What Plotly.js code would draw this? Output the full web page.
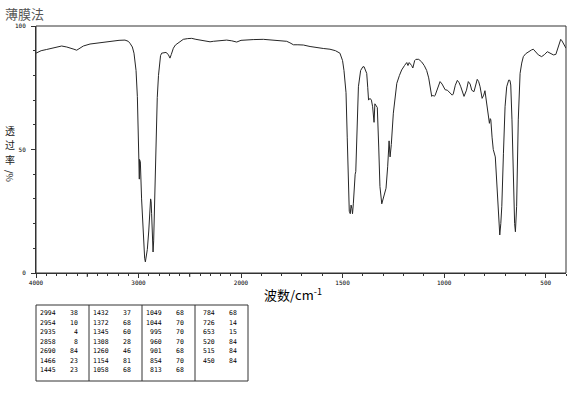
<!DOCTYPE html>
<html>
<head>
<meta charset="utf-8">
<script src="https://cdn.plot.ly/plotly-3.0.1.min.js"></script>
<style>html,body{margin:0;padding:0;background:#fff;}#chart{width:570px;height:394px;}</style>
</head>
<body>
<div id="chart"></div>
<script>
// Spectrum: wavenumber (cm-1) and transmittance (%)
var wavenumber = [4000,3950,3896,3820,3750,3700,3668,3630,3603,3570,3538,3473,3420,3359,3300,3246,3190,3132,3100,3083,3060,3044,3030,3024,3011,3002,2998,2995,2992,2990,2982,2970,2960,2950,2940,2933,2926,2914,2900,2890,2882,2877,2872,2865,2858,2852,2845,2838,2829,2817,2805,2797,2785,2774,2750,2732,2710,2693,2680,2660,2640,2612,2563,2520,2481,2440,2400,2350,2302,2270,2237,2190,2140,2090,2042,2000,
1989,1940,1890,1840,1800,1775,1759,1742,1720,1693,1660,1627,1595,1562,1535,1513,1500,1493,1483,1477,1472,1467,1462,1458,1454,1451,1447,1443,1438,1435,1430,1422,1411,1400,1394,1386,1381,1376,1372,1365,1358,1352,1345,1341,1336,1329,1322,1316,1307,1296,1286,1278,1271,1266,1260,1250,1233,1220,1209,1195,1184,1178,1172,1160,1154,1145,1139,1125,1111,1098,1086,1076,1069,1061,1055,1049,1044,1035,1020,1010,1000,995,984,970,960,955,945,935,926,918,910,902,890,881,872,864,853,845,837,830,823,813,805,799,793,787,781,777,773,770,764,758,748,738,731,726,721,716,708,700,692,682,676,672,666,659,653,649,643,635,626,618,610,598,585,570,561,550,536,520,515,505,492,478,462,450,445,435,426,420,413,405,400];
var transmittance = [89,90,90.5,91.3,91.9,91.5,91.2,90.6,90.2,91.2,91.9,92.7,93.0,93.2,93.6,94.0,94.2,94.3,93.8,93,91.5,89,85,82,71.4,58,52,40,38,46,45,30,21,10,6,4.5,6,9.5,17,24,30,29,24,15,8.5,13,25,38,51,71,80,85,88,89,89.3,89.3,88.5,87,88.5,91,92.3,93.2,94.6,94.9,95,94.6,94.3,93.8,93.6,93.8,94,94.3,94.3,94,93.5,94.2,
94.3,94.5,94.6,94.3,94,93.8,93.2,92.4,92.4,92.3,91.7,91.2,90.9,90.6,90,89,86,82,73,55,38,25,24,27.5,26,24,28,37,40,41,58,75.4,82,83.5,83.5,82,80.8,75,70,70.7,70,67.3,61,68.5,68,67,51,35,28,31.6,34.3,43,53.5,47,52,64.7,76.8,80,82.2,84,85.2,84,85.2,84,83,86,86.5,86.5,85.5,84,82,79,75,71.5,72,71.5,72,74,77.5,76.5,74.8,74.2,74,73,72,72.5,76,78,77,75.4,73,71.5,74,77.5,76.5,74,73.4,76,78.4,77.5,75.4,70.7,72,73.8,70,67.3,63,60.6,62.5,62,55,50,47,32,22,15.4,20,27,48.5,67.3,75.4,78.1,78,76.1,62,38,20,16.7,27,62,80.8,85,87.6,88.8,89.6,90.3,90.6,89.6,88.3,87.6,87.8,88.5,89.6,89,88.3,88.5,90,92.6,94.6,94,93,91.8,91];

// Peak table (4 column groups)
var peakWn = [
  ['2994','2954','2935','2858','2690','1466','1445'],
  ['1432','1372','1345','1308','1260','1154','1058'],
  ['1049','1044','995','960','901','854','813'],
  ['784','726','653','520','515','450']
];
var peakT = [
  ['38','10','4','8','84','23','23'],
  ['37','68','60','28','46','81','68'],
  ['68','70','70','70','68','70','68'],
  ['68','14','15','84','84','84']
];

var leftTicks = [4000,3000,2000];
var leftTickText = ['4000','3000','2000'];
var leftHalfTicks = [3500,2500];
var rightTicks = [1500,1000,500];
var rightTickText = ['1500','1000','500'];
var yTicks = [0,50,100];
var yTickText = ['0','50','100'];
var yTitleChars = ['透','过','率'];
var yTitleUnit = '/%';

// split spectrum into the two differently scaled x-axis segments
var xl=[],yl=[],xr=[],yr=[];
for (var i=0;i<wavenumber.length;i++){
  if (wavenumber[i]>=2000){xl.push(wavenumber[i]);yl.push(transmittance[i]);}
  if (wavenumber[i]<=2000){xr.push(wavenumber[i]);yr.push(transmittance[i]);}
}

// geometry (pixels)
var W=570,H=394,L=36,R=566,T=26,B=273;
var pw=R-L, ph=B-T;
function px(x){return (x-L)/pw;}
function py(y){return (B-y)/ph;}
var split = 205/530;

var lineStyle = {color:'#262626', width:1};
var traces = [
  {x:xl,y:yl,xaxis:'x',yaxis:'y',mode:'lines',line:lineStyle,hoverinfo:'skip'},
  {x:xr,y:yr,xaxis:'x2',yaxis:'y',mode:'lines',line:lineStyle,hoverinfo:'skip'}
];

var tickFont = {family:'DejaVu Sans Mono', size:6, color:'#000'};
var axCommon = {
  showline:true, linecolor:'#333', linewidth:1, showgrid:false, zeroline:false,
  ticks:'outside', ticklen:4, tickcolor:'#333', tickwidth:1, tickfont:tickFont,
  fixedrange:true, tickmode:'array'
};

var layout = {
  width:W, height:H,
  margin:{l:L, r:W-R, t:T, b:H-B, pad:0},
  paper_bgcolor:'#fff', plot_bgcolor:'#fff',
  showlegend:false,
  font:{family:'Noto Sans CJK SC'},
  title:{text:'薄膜法', font:{family:'Noto Sans CJK SC', size:13, color:'#555'},
         xref:'container', x:5/W, xanchor:'left', yref:'container', y:1-14/H, yanchor:'middle'},
  xaxis:Object.assign({}, axCommon, {domain:[0,split], range:[4000,2000], anchor:'y',
         tickvals:leftTicks, ticktext:leftTickText,
         minor:{tickmode:'linear', tick0:0, dtick:100, ticks:'outside', ticklen:2, tickcolor:'#333'}}),
  xaxis2:Object.assign({}, axCommon, {domain:[split,1], range:[2000,400], anchor:'y',
         tickvals:rightTicks, ticktext:rightTickText,
         minor:{tickmode:'linear', tick0:0, dtick:100, ticks:'outside', ticklen:2, tickcolor:'#333'}}),
  yaxis:Object.assign({}, axCommon, {range:[0,100], anchor:'x',
         tickvals:yTicks, ticktext:yTickText, ticklabelstandoff:4,
         minor:{tickmode:'linear', tick0:0, dtick:10, ticks:'outside', ticklen:2, tickcolor:'#333'}}),
  shapes:[
    {type:'rect', xref:'paper', yref:'paper', x0:0, x1:1, y0:0, y1:1, line:{color:'#333', width:1}}
  ],
  annotations:[
    {text:'波数/cm<sup>-1</sup>', xref:'paper', yref:'paper', x:px(262), y:py(294), xanchor:'left', yanchor:'middle',
     showarrow:false, font:{family:'Noto Sans CJK SC', size:13, color:'#000'}}
  ]
};

// unlabeled longer ticks at the half-thousands of the compressed segment
leftHalfTicks.forEach(function(v){
  layout.shapes.push({type:'line', xref:'x', yref:'paper', x0:v, x1:v, y0:0, y1:-4/ph, line:{color:'#333', width:1}});
});

// vertical y-axis title: stacked upright characters, then rotated unit
var yTitleFont = {family:'Noto Sans CJK SC', size:10, color:'#222'};
for (var k=0;k<yTitleChars.length;k++){
  layout.annotations.push({text:yTitleChars[k], xref:'paper', yref:'paper', x:px(10), y:py(130+k*14.5),
    xanchor:'center', yanchor:'middle', showarrow:false, font:yTitleFont});
}
layout.annotations.push({text:yTitleUnit, xref:'paper', yref:'paper', x:px(10), y:py(176),
  xanchor:'center', yanchor:'middle', textangle:90, showarrow:false, font:{family:'Noto Sans CJK SC', size:9, color:'#222'}});

// peak table
var tabL=36, tabR=248, tabT=305, tabB=381, colW=(tabR-tabL)/4;
layout.shapes.push({type:'rect', xref:'paper', yref:'paper', x0:px(tabL), x1:px(tabR), y0:py(tabB), y1:py(tabT), line:{color:'#333', width:1}});
for (var c=1;c<4;c++){
  var xc = tabL+c*colW;
  layout.shapes.push({type:'line', xref:'paper', yref:'paper', x0:px(xc), x1:px(xc), y0:py(tabB), y1:py(tabT), line:{color:'#333', width:1}});
}
var tabFont = {family:'DejaVu Sans Mono', size:6.5, color:'#000'};
for (var c=0;c<4;c++){
  var x0 = tabL+c*colW;
  for (var r=0;r<peakWn[c].length;r++){
    var yy = 313 + r*9.5;
    layout.annotations.push({text:peakWn[c][r], xref:'paper', yref:'paper', x:px(x0+22), y:py(yy), xanchor:'right', yanchor:'middle', showarrow:false, font:tabFont});
    layout.annotations.push({text:peakT[c][r], xref:'paper', yref:'paper', x:px(x0+44), y:py(yy), xanchor:'right', yanchor:'middle', showarrow:false, font:tabFont});
  }
}

Plotly.newPlot('chart', traces, layout, {displayModeBar:false, staticPlot:true});
</script>
</body>
</html>
